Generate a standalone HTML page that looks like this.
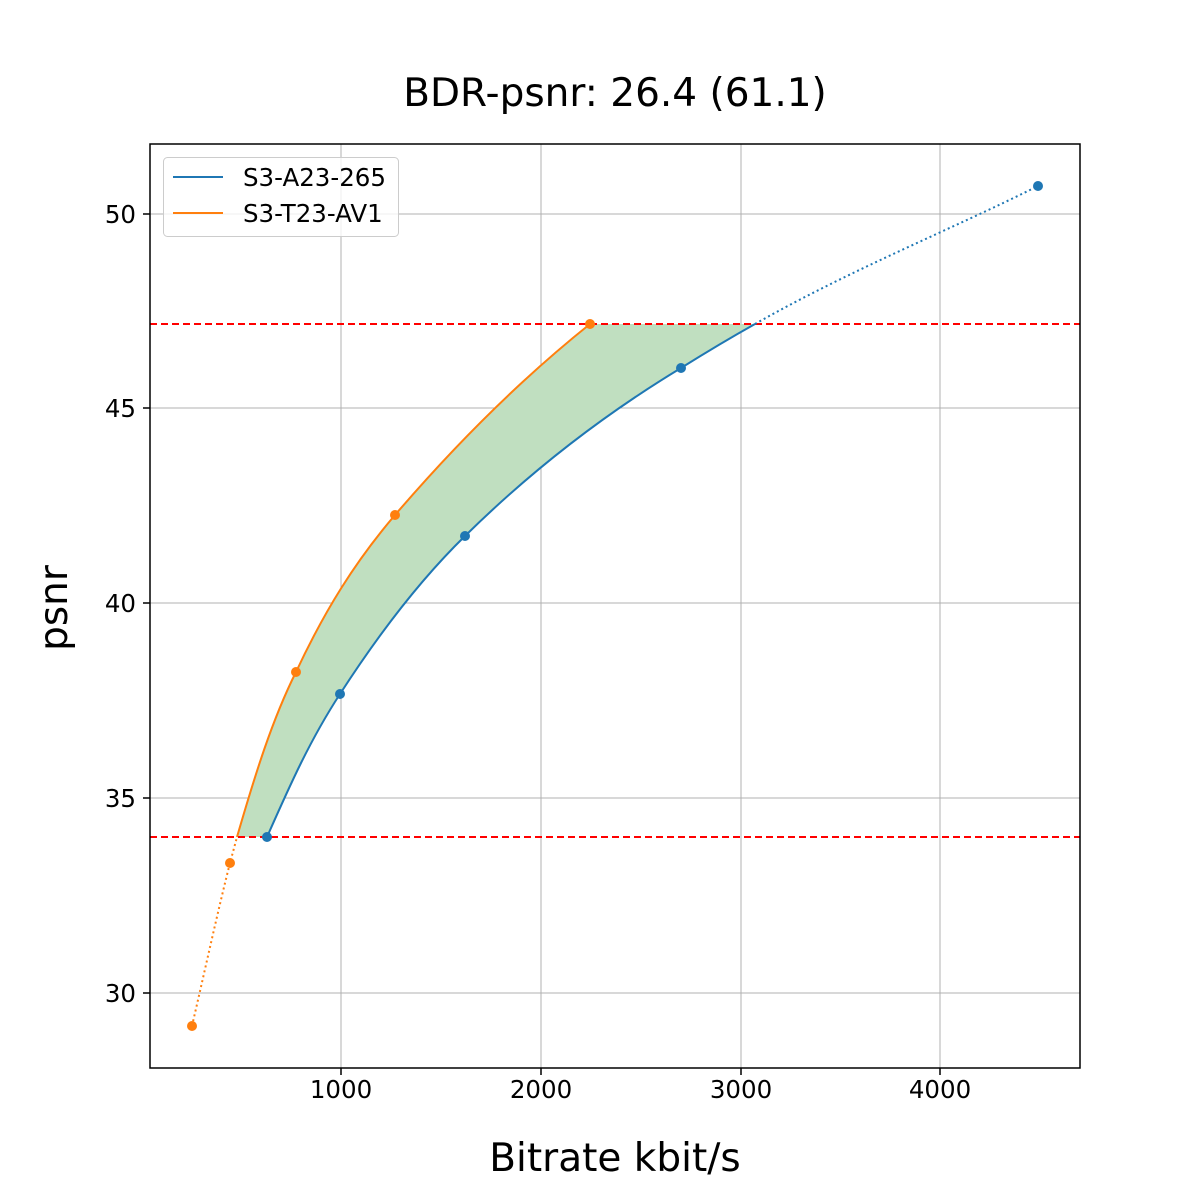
<!DOCTYPE html>
<html><head><meta charset="utf-8"><style>body{margin:0;background:#fff}svg{display:block}text{font-family:"DejaVu Sans","Liberation Sans",sans-serif}</style></head>
<body>
<svg width="1200" height="1200" viewBox="0 0 1200 1200">
<rect width="1200" height="1200" fill="#fff"/>
<g stroke="#b0b0b0" stroke-width="1">
<line x1="341" y1="144" x2="341" y2="1068"/><line x1="541" y1="144" x2="541" y2="1068"/><line x1="741" y1="144" x2="741" y2="1068"/><line x1="940" y1="144" x2="940" y2="1068"/>
<line x1="150" y1="214" x2="1080" y2="214"/><line x1="150" y1="408" x2="1080" y2="408"/><line x1="150" y1="603" x2="1080" y2="603"/><line x1="150" y1="798" x2="1080" y2="798"/><line x1="150" y1="993" x2="1080" y2="993"/>
</g>
<path d="M237,837 C255,775 272,720 296,672 C325,610 355,562 395,515 C455,445 520,380 590,324 L755,324 C730,338 705,353 681,368 C600,417 530,472 465,536 C420,580 380,632 340,694 C310,740 290,785 267,837 Z" fill="#c0dfc0"/>
<line x1="150" y1="324" x2="1080" y2="324" stroke="#f00" stroke-width="2" stroke-dasharray="7,4"/>
<line x1="150" y1="837" x2="1080" y2="837" stroke="#f00" stroke-width="2" stroke-dasharray="7,4"/>
<path d="M267,837 C290,785 310,740 340,694 C380,632 420,580 465,536 C530,472 600,417 681,368 C705,353 730,338 755,324" fill="none" stroke="#1f77b4" stroke-width="2"/>
<path d="M755,324 C850,270 950,230 1038,186" fill="none" stroke="#1f77b4" stroke-width="2" stroke-dasharray="2,3"/>
<path d="M192,1026 C205,970 218,910 230,863 L237,837" fill="none" stroke="#ff7f0e" stroke-width="2" stroke-dasharray="2,3"/>
<path d="M237,837 C255,775 272,720 296,672 C325,610 355,562 395,515 C455,445 520,380 590,324" fill="none" stroke="#ff7f0e" stroke-width="2"/>
<g fill="#1f77b4"><circle cx="267" cy="837" r="5"/><circle cx="340" cy="694" r="5"/><circle cx="465" cy="536" r="5"/><circle cx="681" cy="368" r="5"/><circle cx="1038" cy="186" r="5"/></g>
<g fill="#ff7f0e"><circle cx="192" cy="1026" r="5"/><circle cx="230" cy="863" r="5"/><circle cx="296" cy="672" r="5"/><circle cx="395" cy="515" r="5"/><circle cx="590" cy="324" r="5"/></g>
<rect x="150" y="144" width="930" height="924" fill="none" stroke="#000" stroke-width="1.5"/>
<g stroke="#000" stroke-width="1.5">
<line x1="341" y1="1068" x2="341" y2="1075"/><line x1="541" y1="1068" x2="541" y2="1075"/><line x1="741" y1="1068" x2="741" y2="1075"/><line x1="940" y1="1068" x2="940" y2="1075"/>
<line x1="143" y1="214" x2="150" y2="214"/><line x1="143" y1="408" x2="150" y2="408"/><line x1="143" y1="603" x2="150" y2="603"/><line x1="143" y1="798" x2="150" y2="798"/><line x1="143" y1="993" x2="150" y2="993"/>
</g>
<g font-size="24.5" text-anchor="middle"><text x="341" y="1098">1000</text><text x="541" y="1098">2000</text><text x="741" y="1098">3000</text><text x="940" y="1098">4000</text></g>
<g font-size="24.5" text-anchor="end"><text x="136" y="223">50</text><text x="136" y="417">45</text><text x="136" y="612">40</text><text x="136" y="807">35</text><text x="136" y="1002">30</text></g>
<text x="615" y="106" font-size="39" text-anchor="middle">BDR-psnr: 26.4 (61.1)</text>
<text x="615" y="1171" font-size="39" text-anchor="middle">Bitrate kbit/s</text>
<text transform="translate(67,608) rotate(-90)" font-size="39" text-anchor="middle">psnr</text>
<rect x="163.5" y="157.5" width="235" height="79" rx="4" fill="#fff" fill-opacity="0.8" stroke="#ccc"/>
<line x1="173" y1="177" x2="223" y2="177" stroke="#1f77b4" stroke-width="2"/>
<line x1="173" y1="213" x2="223" y2="213" stroke="#ff7f0e" stroke-width="2"/>
<g font-size="24.5"><text x="243" y="186">S3-A23-265</text><text x="243" y="222">S3-T23-AV1</text></g>
</svg>
</body></html>
